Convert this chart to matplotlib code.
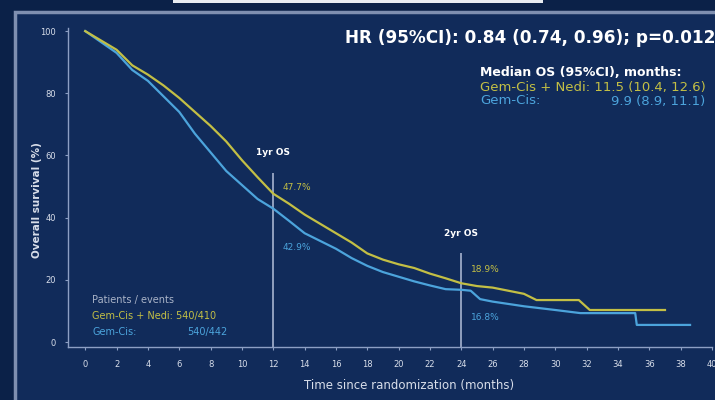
import matplotlib.pyplot as plt
from matplotlib.patches import Rectangle

# Kaplan-Meier curves (months, % alive)
t_combo = [0, 1, 2, 3, 4, 5, 6, 7, 8, 9, 10, 11, 12, 13, 14, 15, 16, 17, 18, 19,
           20, 21, 22, 23, 24, 25, 26, 27, 28, 28.8, 31.5, 32.2, 37]
s_combo = [100, 97, 94, 89, 86, 82.5, 78.5, 74, 69.5, 64.5, 58.5, 53, 47.7, 44.5,
           41, 38, 35, 32, 28.5, 26.5, 25, 23.8, 22, 20.5, 18.9, 18, 17.5, 16.5,
           15.5, 13.5, 13.5, 10.3, 10.3]

t_ctrl = [0, 1, 2, 3, 4, 5, 6, 7, 8, 9, 10, 11, 12, 13, 14, 15, 16, 17, 18, 19,
          20, 21, 22, 23, 24, 24.6, 25.2, 26, 28, 30, 31.6, 35.1, 35.2, 38.6]
s_ctrl = [100, 96.5, 93, 87.5, 84, 79, 74, 67, 61, 55, 50.5, 46, 42.9, 39, 35,
          32.5, 30, 27, 24.5, 22.5, 21, 19.5, 18.2, 17, 16.8, 16.5, 13.8, 13,
          11.5, 10.3, 9.3, 9.3, 5.5, 5.5]

landmarks = [12, 24]
landmark_names = ['1yr OS', '2yr OS']
os_combo = [47.7, 18.9]
os_ctrl = [42.9, 16.8]

arm_names = ['Gem-Cis + Nedi:', 'Gem-Cis:']
pts_events = ['540/410', '540/442']
median_txt = ['11.5 (10.4, 12.6)', '9.9 (8.9, 11.1)']

bg = '#112b5a'
outer = '#0b2148'
gold = '#c3bf45'
blue = '#4ca4dc'
axc = '#8d9fc4'
txt = '#d8deea'

fig = plt.figure(figsize=(7.15, 4.0), dpi=100)
fig.patch.set_facecolor(outer)

# slide frame
fig.patches.append(Rectangle((15/715, -0.01), 1, 1.01 - 12/400, transform=fig.transFigure,
                             facecolor=bg, edgecolor='#7f8fb0', linewidth=2.5, zorder=-10))
fig.patches.append(Rectangle((173/715, 1 - 3/400), 370/715, 3/400, transform=fig.transFigure,
                             facecolor='#e8ecf2', edgecolor='none', zorder=-10))

ax = fig.add_axes([68/715, 53/400, 644/715, 319/400])
ax.set_zorder(5)
ax.set_facecolor('none')
ax.plot(t_combo, s_combo, color=gold, lw=1.6, zorder=4)
ax.plot(t_ctrl, s_ctrl, color=blue, lw=1.6, zorder=3)

ax.set_xlim(-1.1, 40.0)
ax.set_ylim(-1.6, 101)
ax.set_xticks(range(0, 41, 2))
ax.set_yticks(range(0, 101, 20))
for s in ['top', 'right']:
    ax.spines[s].set_visible(False)
for s in ['left', 'bottom']:
    ax.spines[s].set_color(axc)
    ax.spines[s].set_linewidth(1.0)
ax.tick_params(colors=axc, labelcolor=txt, labelsize=6, length=2.5, width=0.8)
ax.tick_params(axis='x', pad=7)
ax.tick_params(axis='y', pad=6)

ax.set_ylabel('Overall survival (%)', color=txt, fontsize=7.5, fontweight='bold')
ax.yaxis.set_label_coords(-0.04, 0.46)
ax.set_xlabel('Time since randomization (months)', color=txt, fontsize=8.5)
ax.xaxis.set_label_coords(0.53, -0.1)

# landmark lines and rates
line_tops = [54.3, 28.6]
name_y = [61.1, 35.0]
combo_y = [49.8, 23.2]
ctrl_y = [30.5, 8.0]
for i, lm in enumerate(landmarks):
    ax.vlines(lm, -1.6, line_tops[i], color='#a7b3cf', lw=1.2, zorder=2)
    ax.text(lm, name_y[i], landmark_names[i], color='white', fontsize=6.5,
            fontweight='bold', ha='center', va='center')
    ax.text(lm + 0.6, combo_y[i], f'{os_combo[i]}%', color=gold, fontsize=6.5,
            ha='left', va='center')
    ax.text(lm + 0.6, ctrl_y[i], f'{os_ctrl[i]}%', color=blue, fontsize=6.5,
            ha='left', va='center')

# patients / events box
ax.text(0.45, 13.6, 'Patients / events', color='#aab4c8', fontsize=7, va='center')
ax.text(0.45, 8.4, f'{arm_names[0]} {pts_events[0]}', color=gold, fontsize=7, va='center')
ax.text(0.45, 3.3, arm_names[1], color=blue, fontsize=7, va='center')
ax.text(9.1, 3.3, pts_events[1], color=blue, fontsize=7, ha='right', va='center')

fig.text(345/715, 1 - 38/400, 'HR (95%CI): 0.84 (0.74, 0.96); p=0.012', color='white',
         fontsize=12.2, fontweight='bold', ha='left', va='center')
fig.text(480/715, 1 - 73/400, 'Median OS (95%CI), months:', color='white',
         fontsize=9, fontweight='bold', ha='left', va='center')
fig.text(480/715, 1 - 87/400, f'{arm_names[0]} {median_txt[0]}', color=gold,
         fontsize=9.5, ha='left', va='center')
fig.text(480/715, 1 - 101/400, arm_names[1], color=blue, fontsize=9.5, ha='left', va='center')
fig.text(705/715, 1 - 101/400, median_txt[1], color=blue, fontsize=9.5, ha='right', va='center')

fig.savefig('out.png', dpi=100, facecolor=fig.get_facecolor())
